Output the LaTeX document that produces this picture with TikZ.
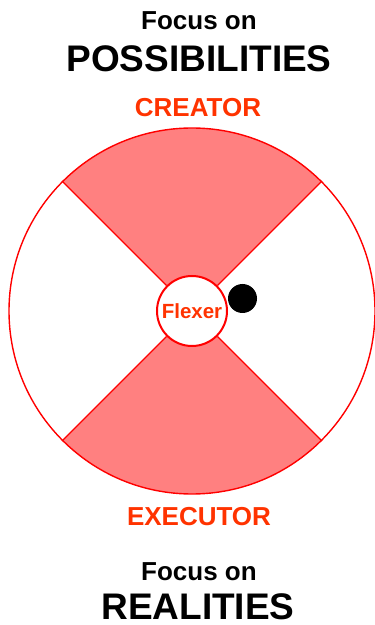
\documentclass[tikz,border=0pt]{standalone}
\usepackage{fontspec}
\setmainfont{Liberation Sans}
\usepackage{tikz}
\usetikzlibrary{positioning}

\definecolor{wheelred}{HTML}{FF0000}
\definecolor{wheelpink}{HTML}{FF8080}
\definecolor{rolered}{HTML}{FF3300}

\tikzset{
  heading/.style={font=\fontsize{26}{30}\selectfont\bfseries, anchor=base, inner sep=0pt},
  bigheading/.style={font=\fontsize{37}{42}\selectfont\bfseries, anchor=base, inner sep=0pt},
  role/.style={font=\fontsize{26}{30}\selectfont\bfseries, text=rolered, anchor=base, inner sep=0pt},
  spoke/.style={draw=wheelred, line width=1.4pt}
}

\begin{document}
\begin{tikzpicture}[x=1pt, y=1pt]
\useasboundingbox (0,0) rectangle (375,625);

% Outer wheel
\coordinate (c) at (192,314);
\fill[wheelpink] (c) -- ++(45:183) arc (45:135:183) -- cycle;
\fill[wheelpink] (c) -- ++(225:183) arc (225:315:183) -- cycle;
\node[circle, draw=wheelred, line width=1.4pt, minimum size=366pt, inner sep=0pt] (wheel) at (c) {};

% Centre
\node[circle, draw=wheelred, fill=white, line width=2pt, minimum size=70pt, inner sep=0pt,
      font=\fontsize{20.5}{24}\selectfont\bfseries, text=rolered] (flexer) at (c) {Flexer};

% Spokes
\foreach \a in {45,135,225,315} {
  \draw[spoke] (flexer.\a) -- (wheel.\a);
}

% Marker
\fill[black] (242.5,326.5) circle (14.5);

% Top labels
\node[heading] (focustop) at (199,595) {Focus on};
\node[bigheading] (possib) at (199,553) {POSSIBILITIES};
\node[role] (creator) at (198,508) {CREATOR};

% Bottom labels
\node[role] (executor) at (199,99) {EXECUTOR};
\node[heading] (focusbot) at (199,45) {Focus on};
\node[bigheading] (realities) at (198,5.5) {REALITIES};

\end{tikzpicture}
\end{document}
